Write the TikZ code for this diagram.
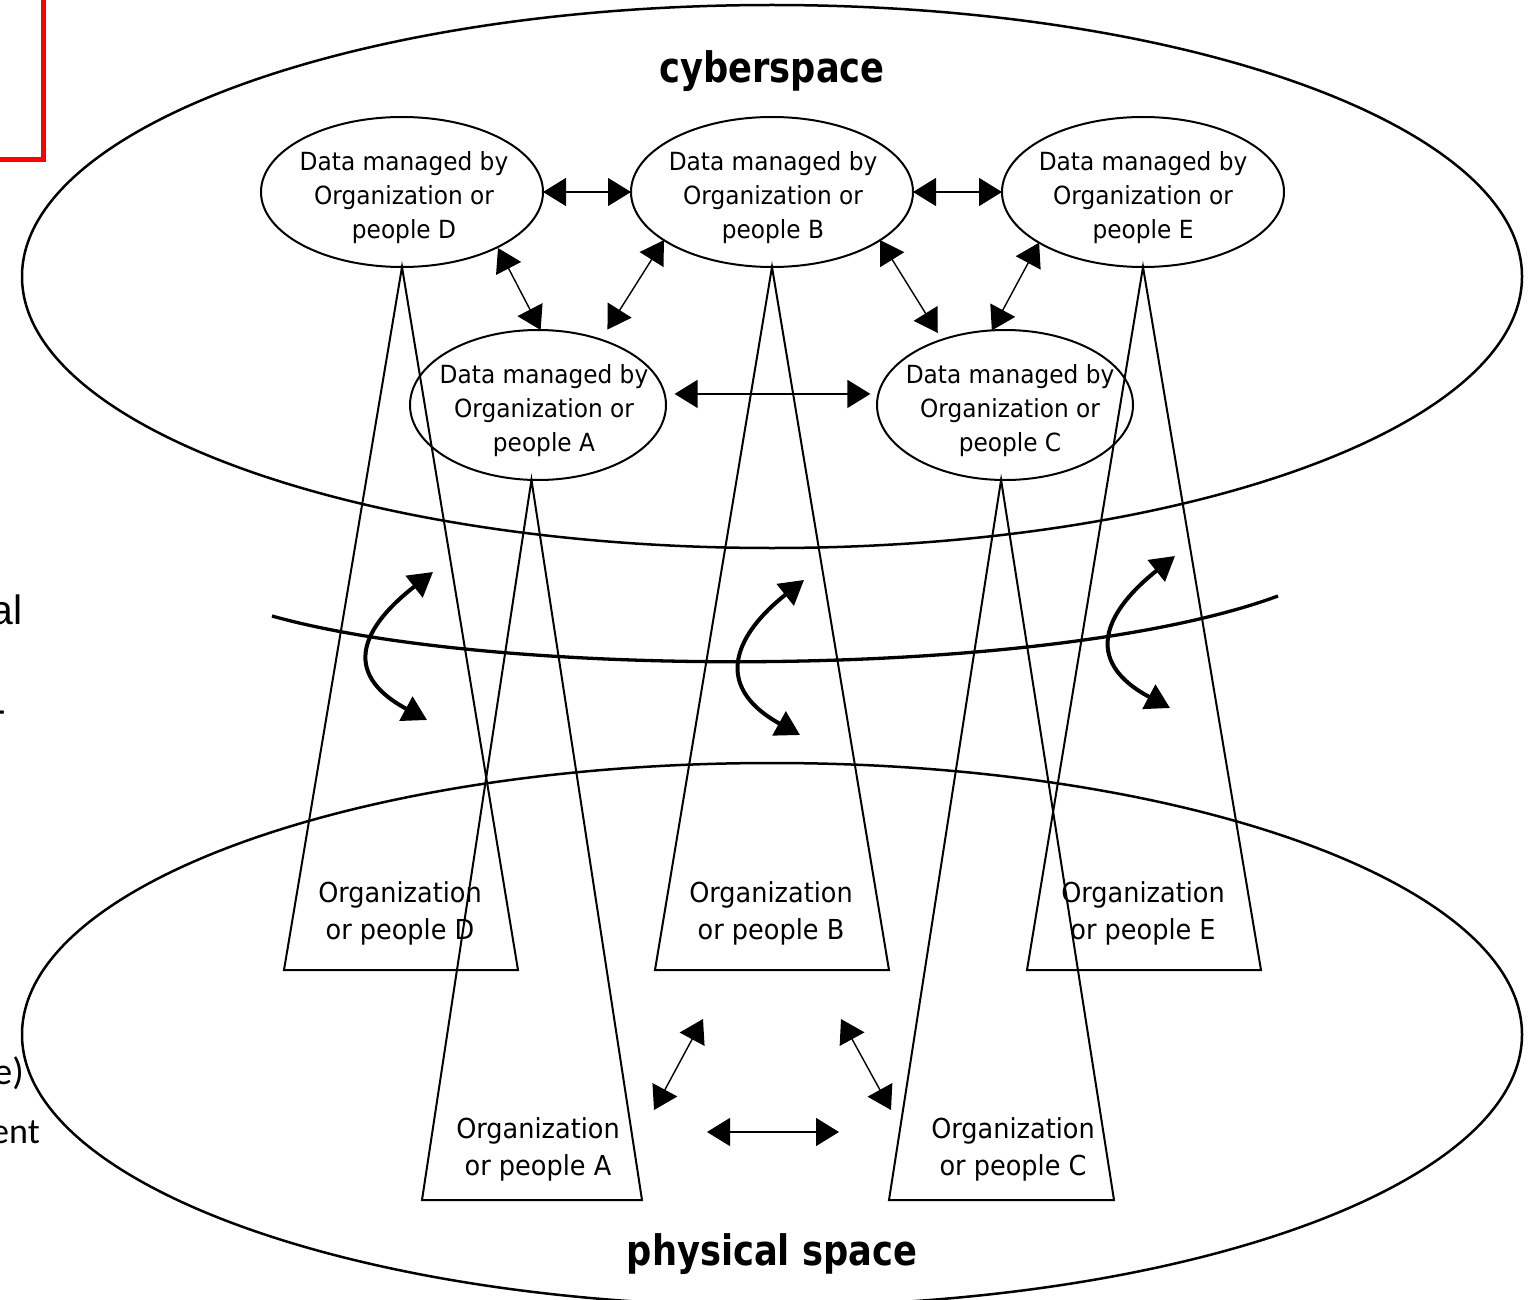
\documentclass[tikz,border=0pt]{standalone}
\usepackage{fontspec}
\setmainfont{DejaVu Sans}[FakeStretch=0.93]
\newfontfamily\titlefont{DejaVu Sans}[FakeStretch=0.84]
\newfontfamily\arialfont{Liberation Sans}
\newfontfamily\calfont{Carlito}
\usetikzlibrary{shapes.geometric,arrows.meta}

\begin{document}
\begin{tikzpicture}[x=1pt,y=-1pt,
  bigell/.style={draw, ellipse, line width=2.5pt, minimum width=1500pt, minimum height=543pt, inner sep=0pt, outer sep=0pt},
  dataell/.style={draw, ellipse, line width=2pt, inner sep=0pt, outer sep=0pt},
  bigdata/.style={dataell, minimum width=282pt, minimum height=150pt},
  smalldata/.style={dataell, minimum width=256pt, minimum height=150pt},
  datatxt/.style={align=center, font=\fontsize{25}{34}\selectfont, inner sep=0pt, yshift=-6pt},
  orgtxt/.style={align=center, font=\fontsize{27.5}{37}\selectfont, inner sep=0pt},
  titletxt/.style={font=\titlefont\bfseries\fontsize{42}{50}\selectfont, inner sep=0pt, anchor=base},
  tri/.style={line width=2pt, line join=miter},
  link/.style={line width=1.4pt, {Triangle[length=23pt,width=28pt]}-{Triangle[length=23pt,width=28pt]}},
  swing/.style={line width=4pt, {Triangle[length=24pt,width=27pt]}-{Triangle[length=24pt,width=27pt]}},
  cut/.style={inner sep=0pt, anchor=base east},
]
\useasboundingbox (0,0) rectangle (1534,1300);
\clip (0,0) rectangle (1534,1300);

% red frame entering from the top left corner
\draw[red, line width=5pt] (-30,-30) rectangle (43,160);

% cut-off side captions
\node[cut, font=\arialfont\fontsize{41}{41}\selectfont] (capA) at (23,624) {al};
\node[cut, font=\arialfont\fontsize{41}{41}\selectfont] (capB) at (6.6,723) {-};
\node[cut, font=\calfont\fontsize{38}{38}\selectfont] (capC) at (24,1084) {e)};
\node[cut, font=\calfont\fontsize{36}{36}\selectfont] (capD) at (40,1143) {ent};

% the two spaces
\node[bigell] (cyber) at (772,276.5) {};
\node[bigell] (phys) at (772,1034.5) {};
\node[titletxt] (cybert) at (772,83) {cyberspace};
\node[titletxt] (physt) at (772,1265) {physical space};

% boundary between the spaces
\draw[line width=3.3pt] (272,616) .. controls (500,680) and (1050,680) .. (1278,596);

% data held in cyberspace
\node[bigdata] (dD) at (402,192) {};
\node[bigdata] (dB) at (772,192) {};
\node[bigdata] (dE) at (1143,192) {};
\node[smalldata] (dA) at (538,405) {};
\node[smalldata] (dC) at (1005,405) {};
\node[datatxt, xshift=2pt] (tD) at (dD) {Data managed by\\Organization or\\people D};
\node[datatxt, xshift=1pt] (tB) at (dB) {Data managed by\\Organization or\\people B};
\node[datatxt] (tE) at (dE) {Data managed by\\Organization or\\people E};
\node[datatxt, xshift=6pt] (tA) at (dA) {Data managed by\\Organization or\\people A};
\node[datatxt, xshift=5pt] (tC) at (dC) {Data managed by\\Organization or\\people C};

% exchanges between the data
\draw[link] (dD.east) -- (dB.west);
\draw[link] (dB.east) -- (dE.west);
\draw[link, shorten <=1pt] (dD.-30) -- (dA.88);
\draw[link, shorten >=12pt] (dB.204) -- (dA.46);
\draw[link, shorten >=8pt] (dB.-24) -- (dC.134);
\draw[link] (dE.206) -- (dC.100);
\draw[link, shorten <=10pt, shorten >=8pt] (dA.5) -- (dC.175);

% organizations in physical space, tied to their data
\draw[tri] (dD.south) -- (284,970) -- (518,970) -- cycle;
\draw[tri] (dB.south) -- (655,970) -- (889,970) -- cycle;
\draw[tri] (dE.south) -- (1027,970) -- (1261,970) -- cycle;
\draw[tri] (dA.265) -- (422,1200) -- (642,1200) -- cycle;
\draw[tri] (dC.267) -- (889,1200) -- (1114,1200) -- cycle;
\node[orgtxt] (oD) at (400,913) {Organization\\or people D};
\node[orgtxt] (oB) at (771,913) {Organization\\or people B};
\node[orgtxt] (oE) at (1143,913) {Organization\\or people E};
\node[orgtxt] (oA) at (538,1149) {Organization\\or people A};
\node[orgtxt] (oC) at (1013,1149) {Organization\\or people C};

% exchanges in physical space
\coordinate (p1) at (703,1019);
\coordinate (p2) at (654,1110);
\coordinate (p3) at (841,1019);
\coordinate (p4) at (891,1110);
\coordinate (p5) at (707,1132);
\coordinate (p6) at (839,1132);
\draw[link] (p1) -- (p2);
\draw[link] (p3) -- (p4);
\draw[link] (p5) -- (p6);

% interaction across the boundary
\draw[swing] (433,572) .. controls (365,625) and (338,672) .. (427,720);
\draw[swing] (804,580) .. controls (737,633) and (710,685) .. (800,735);
\draw[swing] (1175,556) .. controls (1107,610) and (1080,660) .. (1170,708);
\end{tikzpicture}
\end{document}
